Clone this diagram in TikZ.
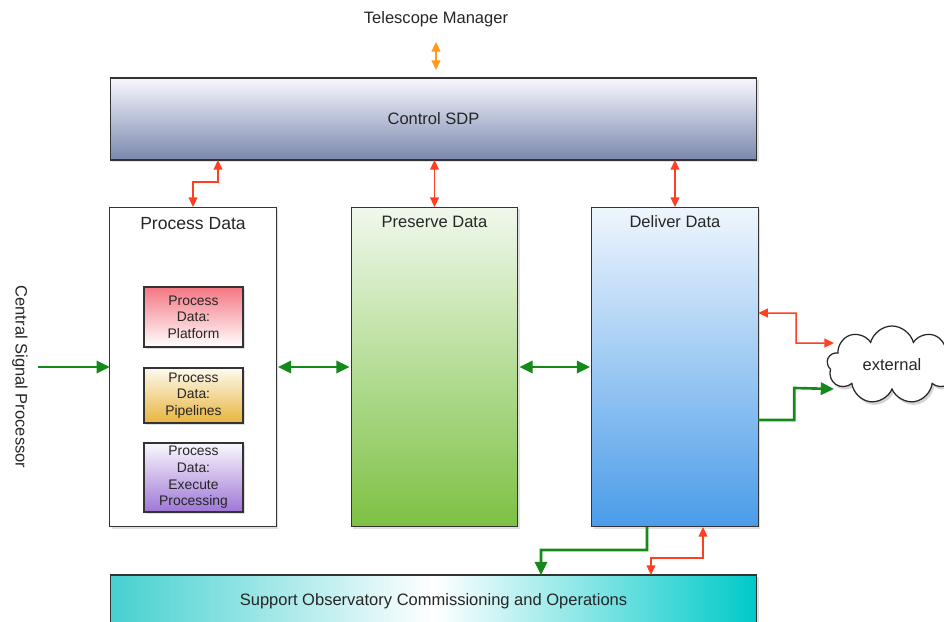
\documentclass[tikz,border=0pt]{standalone}
\usepackage{fontspec}
\setmainfont{Liberation Sans}
\usetikzlibrary{arrows.meta,shapes.symbols,shadows}

\definecolor{ctlred}{HTML}{FF3F22}
\definecolor{tmorange}{HTML}{FF9A1C}
\definecolor{flowgreen}{HTML}{15891A}

\begin{document}
\begin{tikzpicture}
  [x=0.02cm,y=-0.02cm,
   every node/.style={text=black!85,font=\fontsize{9.4}{11}\selectfont},
   box/.style={draw=black!80,line width=0.6pt,inner sep=0pt,outer sep=0pt,
     drop shadow={opacity=0.25,shadow xshift=0.04cm,shadow yshift=-0.04cm}},
   part/.style={box,minimum width=3.33cm,minimum height=6.4cm},
   sub/.style={box,minimum width=1.98cm,align=center,
     font=\fontsize{7.9}{9.5}\selectfont},
   ctlarrow/.style={draw=ctlred,line width=0.85pt,
     {Triangle[length=5.5pt,width=5pt]}-{Triangle[length=5.5pt,width=5pt]}},
   tmarrow/.style={draw=tmorange,line width=0.85pt,
     {Triangle[length=5.5pt,width=5pt]}-{Triangle[length=5.5pt,width=5pt]}},
   flow/.style={draw=flowgreen,line width=1.5pt,-{Triangle[length=7.5pt,width=7pt]}},
   flowboth/.style={flow,{Triangle[length=7.5pt,width=7pt]}-{Triangle[length=7.5pt,width=7pt]}}]

  \useasboundingbox (0,0) rectangle (944,622);

  % outside systems
  \node (tm) at (436,19) {Telescope Manager};
  \node[rotate=-90] (csp) at (20,377) {Central Signal Processor};

  % control layer
  \node[box,minimum width=12.94cm,minimum height=1.64cm,
        top color=blue!3!white,bottom color={rgb,255:red,122;green,136;blue,173}]
        (ctl) at (433.5,119) {Control SDP};

  % the three data blocks
  \node[part,fill=white] (pd) at (193,367) {};
  \node[part,top color={rgb,255:red,240;green,248;blue,236},
        bottom color={rgb,255:red,124;green,193;blue,67}] (psd) at (434.5,367) {};
  \node[part,top color={rgb,255:red,239;green,246;blue,253},
        bottom color={rgb,255:red,74;green,156;blue,233}] (dd) at (675,367) {};
  \node[font=\fontsize{10}{12}\selectfont] (pdt) at (193,224) {Process Data};
  \node (psdt) at (434.5,222) {Preserve Data};
  \node (ddt) at (675,222) {Deliver Data};

  % process data parts
  \node[sub,minimum height=1.2cm,top color={rgb,255:red,244;green,119;blue,131},
        bottom color=white] (pdp) at (193.5,317) {Process\\Data:\\Platform};
  \node[sub,minimum height=1.1cm,top color={rgb,255:red,253;green,250;blue,240},
        bottom color={rgb,255:red,232;green,180;blue,60}] (pdl) at (193.5,395.5)
        {Process\\Data:\\Pipelines};
  \node[sub,minimum height=1.38cm,top color={rgb,255:red,250;green,248;blue,253},
        bottom color={rgb,255:red,158;green,118;blue,214}] (pde) at (193.5,477.5)
        {Process\\Data:\\Execute\\Processing};

  % support and external
  \node[box,minimum width=12.94cm,minimum height=1.04cm,
        left color={rgb,255:red,70;green,208;blue,208},
        right color={rgb,255:red,0;green,201;blue,201},middle color=white]
        (sup) at (433.5,601) {Support Observatory Commissioning and Operations};
  \node[cloud,cloud puffs=9,aspect=1.7,draw=black!85,line width=0.7pt,fill=white,
        minimum width=2.6cm,minimum height=1.56cm,inner sep=0pt,
        drop shadow={opacity=0.35,shadow xshift=0.04cm,shadow yshift=-0.06cm}]
        (ext) at (892,365) {external};

  % control links
  \draw[tmarrow,shorten <=0.18cm,shorten >=0.16cm] (tm.south) -- (tm.south |- ctl.north);
  \draw[ctlarrow] (pd.north) -- ++(0,-25) -| ([xshift=0.5cm]pd.north |- ctl.south);
  \foreach \blk in {psd,dd}
    \draw[ctlarrow] (\blk.north) -- (\blk.north |- ctl.south);

  % data flow
  \draw[flow,shorten <=0.08cm] (csp.north |- pd.west) -- (pd.west);
  \draw[flowboth,shorten <=1pt,shorten >=1pt] (pd.east) -- (psd.west);
  \draw[flowboth,shorten <=1pt,shorten >=1pt] (psd.east) -- (dd.west);

  % to the outside world
  \draw[ctlarrow] ([yshift=1.08cm]dd.east) -| ++(38,30)
    -- ([xshift=0.14cm,yshift=0.44cm]ext.west);
  \draw[flow] ([yshift=-1.06cm]dd.east) -| ++(36,-32)
    -- ([xshift=0.14cm,yshift=-0.48cm]ext.west);

  % to support
  \draw[flow] ([xshift=-0.56cm]dd.south) |- ++(-106,23) -- ([xshift=2.15cm]sup.north);
  \draw[ctlarrow] ([xshift=4.35cm]sup.north) -- ++(0,-17) -| ([xshift=0.56cm]dd.south);
\end{tikzpicture}
\end{document}
